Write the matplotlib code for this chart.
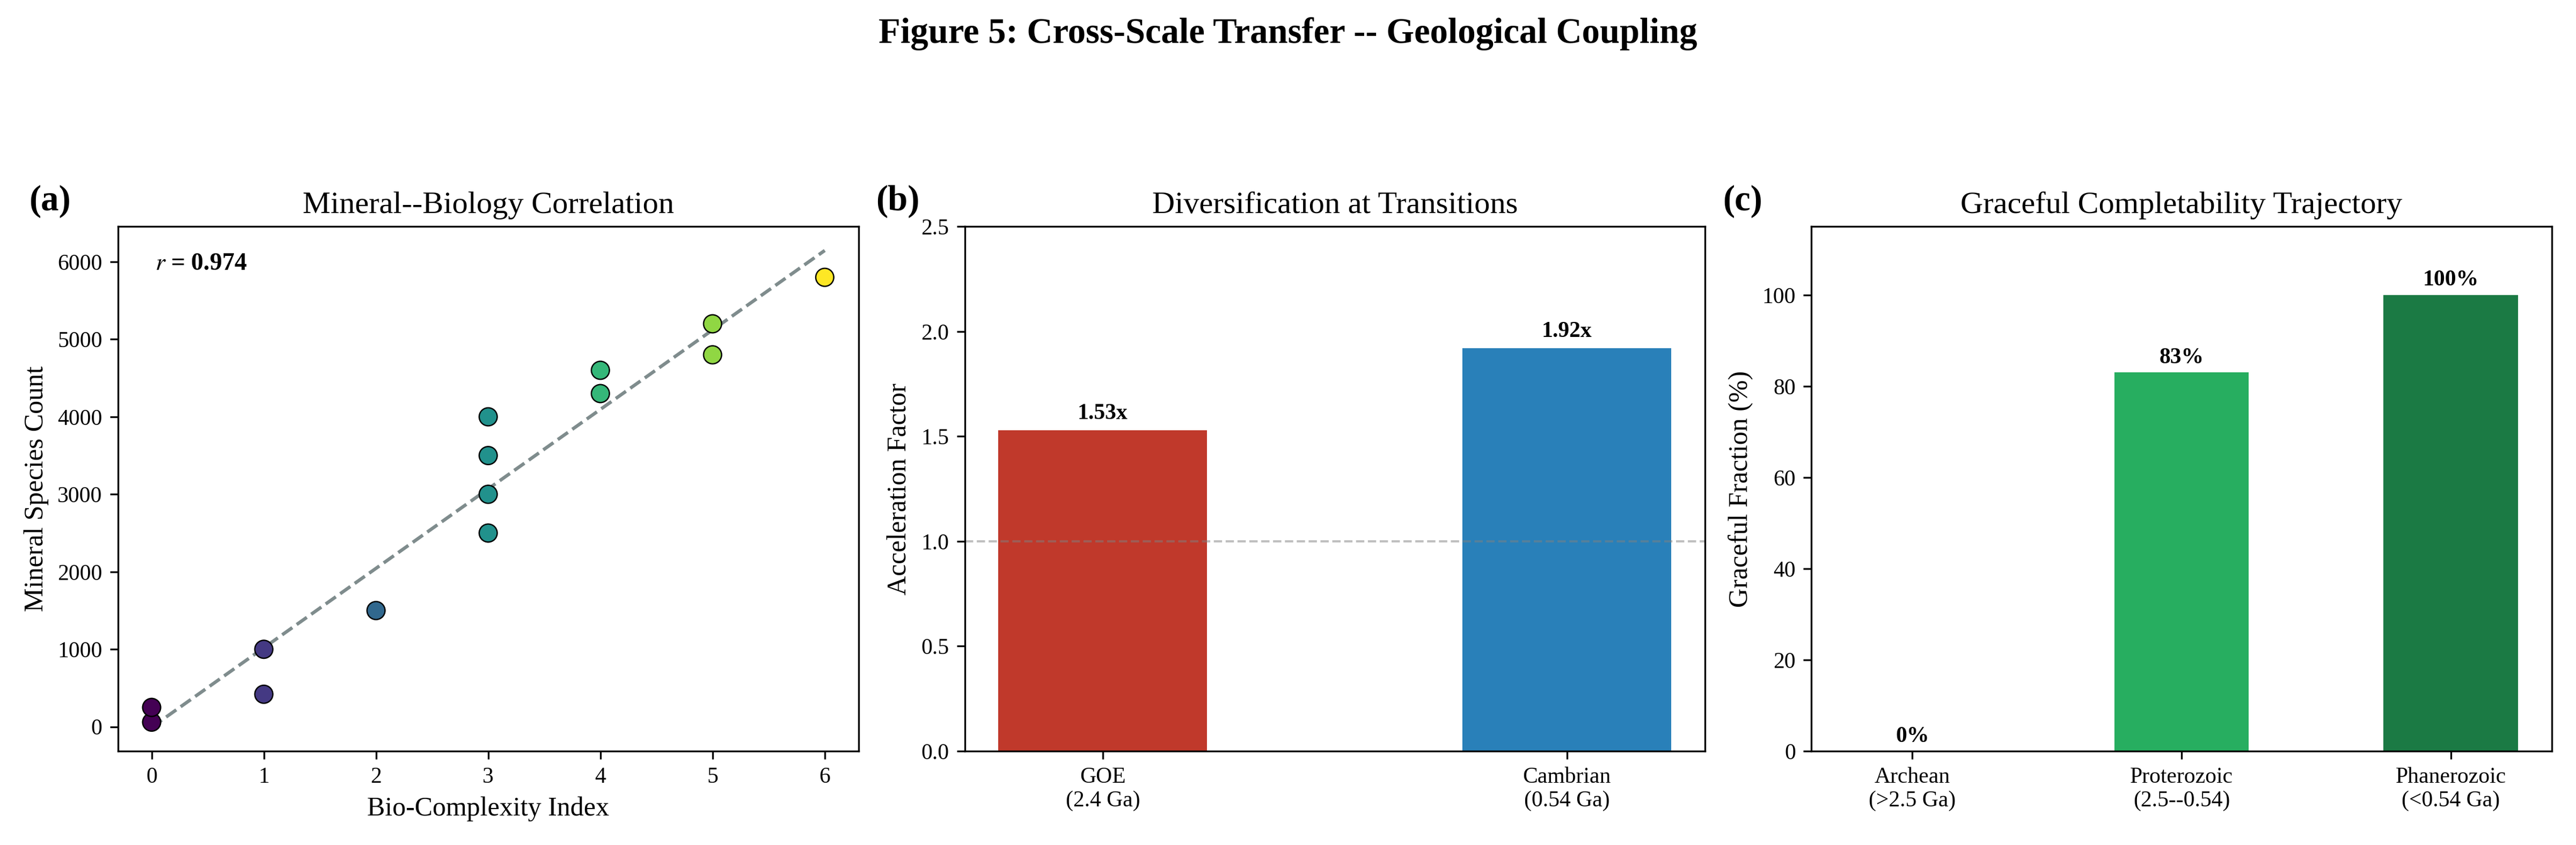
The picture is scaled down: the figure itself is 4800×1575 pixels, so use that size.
import numpy as np
import matplotlib
matplotlib.use("Agg")
import matplotlib.pyplot as plt

plt.rcParams['font.family'] = ['Liberation Serif', 'DejaVu Serif']
plt.rcParams['mathtext.fontset'] = 'stix'

# ---- data ----
bio_complexity = [0, 0, 1, 1, 2, 3, 3, 3, 3, 4, 4, 5, 5, 6]
mineral_count = [60, 250, 420, 1000, 1500, 2500, 3000, 3500, 4000, 4300, 4600, 4800, 5200, 5800]

transitions = ["GOE\n(2.4 Ga)", "Cambrian\n(0.54 Ga)"]
acceleration = [1.53, 1.92]
transition_colors = ["#c0392b", "#2980b9"]

eons = ["Archean\n(>2.5 Ga)", "Proterozoic\n(2.5--0.54)", "Phanerozoic\n(<0.54 Ga)"]
graceful_pct = [0, 83, 100]
eon_colors = ["#95a5a6", "#27ae60", "#1b7a44"]

fig, axes = plt.subplots(1, 3, figsize=(16, 5.25), dpi=300)
fig.subplots_adjust(left=0.0458, right=0.9906, bottom=0.1111, top=0.7318, wspace=0.1435)

# ---- (a) ----
ax = axes[0]
x = np.array(bio_complexity, dtype=float)
y = np.array(mineral_count, dtype=float)
slope, intercept = np.polyfit(x, y, 1)
r = np.corrcoef(x, y)[0, 1]
xf = np.linspace(x.min(), x.max(), 100)
ax.plot(xf, slope * xf + intercept, linestyle='--', color='#7f8c8d', linewidth=1.5, zorder=1)
ax.scatter(x, y, c=x, cmap='viridis', s=65, edgecolors='black', linewidths=0.6, zorder=3)
ax.text(0.05, 0.95, f'$r$ = {r:.3f}', transform=ax.transAxes, fontsize=11,
        fontweight='bold', va='top', ha='left')
ax.set_xlabel('Bio-Complexity Index', fontsize=12)
ax.set_ylabel('Mineral Species Count', fontsize=12)
ax.set_title('Mineral--Biology Correlation', fontsize=14)
ax.tick_params(labelsize=10)
ax.text(-0.12, 1.08, '(a)', transform=ax.transAxes, fontsize=16, fontweight='bold', va='top')

# ---- (b) ----
ax = axes[1]
xb = np.arange(len(transitions))
ax.bar(xb, acceleration, width=0.45, color=transition_colors)
ax.axhline(1.0, color='gray', linestyle='--', linewidth=1, alpha=0.5)
for xi, v in zip(xb, acceleration):
    ax.text(xi, v + 0.03, f'{v:.2f}x', ha='center', va='bottom', fontsize=10, fontweight='bold')
ax.set_xticks(xb)
ax.set_xticklabels(transitions)
ax.set_ylim(0, 2.5)
ax.set_ylabel('Acceleration Factor', fontsize=12)
ax.set_title('Diversification at Transitions', fontsize=14)
ax.tick_params(labelsize=10)
ax.text(-0.12, 1.08, '(b)', transform=ax.transAxes, fontsize=16, fontweight='bold', va='top')

# ---- (c) ----
ax = axes[2]
xc = np.arange(len(eons))
ax.bar(xc, graceful_pct, width=0.5, color=eon_colors)
for xi, v in zip(xc, graceful_pct):
    ax.text(xi, v + 1, f'{v:.0f}%', ha='center', va='bottom', fontsize=10, fontweight='bold')
ax.set_xticks(xc)
ax.set_xticklabels(eons)
ax.set_ylim(0, 115)
ax.set_ylabel('Graceful Fraction (%)', fontsize=12)
ax.set_title('Graceful Completability Trajectory', fontsize=14)
ax.tick_params(labelsize=10)
ax.text(-0.12, 1.08, '(c)', transform=ax.transAxes, fontsize=16, fontweight='bold', va='top')

fig.suptitle('Figure 5: Cross-Scale Transfer -- Geological Coupling', fontsize=16, fontweight='bold')

fig.savefig('out.png', dpi=300)
